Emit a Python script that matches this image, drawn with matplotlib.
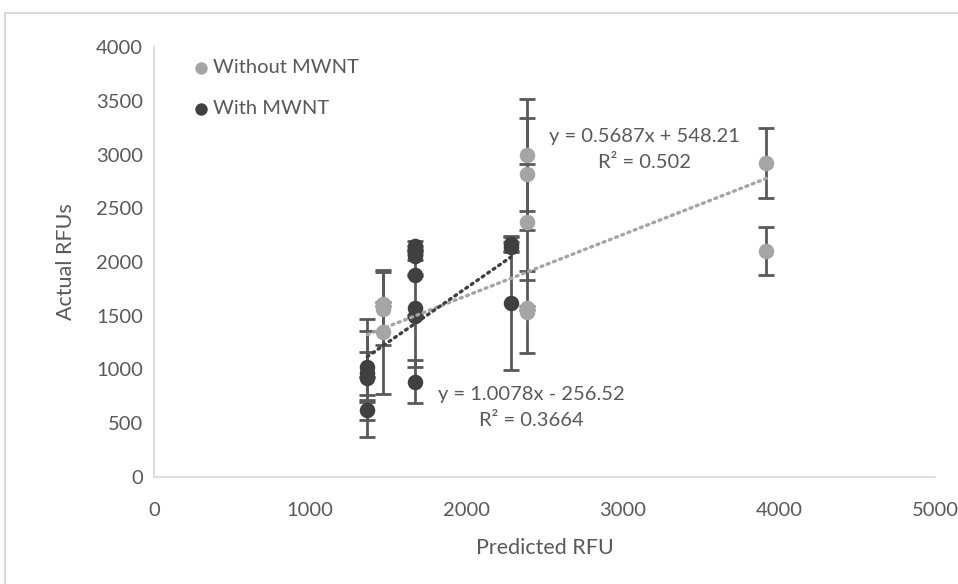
import numpy as np
import matplotlib.pyplot as plt
from matplotlib.patches import Rectangle

plt.rcParams['font.family'] = ['Lato', 'DejaVu Sans']

# Without MWNT: predicted RFU, actual RFU, error
without_x = [1365, 1465, 1465, 1465, 2390, 2390, 2390, 2390, 2390, 3920, 3920]
without_y = [930, 1610, 1565, 1350, 2995, 2816, 2369, 1572, 1534, 2921, 2102]
without_err = [0, 20, 340, 580, 521, 521, 540, 20, 385, 330, 220]

# With MWNT
with_x = [1365, 1365, 1365, 1365, 1672, 1672, 1672, 1672, 1672, 1672, 1672, 2285, 2285, 2285]
with_y = [1026, 965, 921, 623, 2150, 2110, 2060, 1879, 1570, 1500, 887, 2170, 2140, 1616]
with_err = [330, 200, 553, 93, 50, 40, 40, 10, 550, 10, 200, 70, 50, 620]

# linear trendlines: slope, intercept, R^2
without_fit = (0.5687, 548.21, 0.502)
with_fit = (1.0078, -256.52, 0.3664)

light = '#A5A5A5'
dark = '#404040'
bar_col = '#595959'
txt_col = '#595959'
axis_col = '#D9D9D9'

fig = plt.figure(figsize=(9.58, 5.84), dpi=100)
ax = fig.add_axes([154 / 958, 107 / 584, (935 - 154) / 958, 430 / 584])

for xs, ys, err, col, lab in [(without_x, without_y, without_err, light, 'Without MWNT'),
                              (with_x, with_y, with_err, dark, 'With MWNT')]:
    ax.errorbar(xs, ys, yerr=err, fmt='none', ecolor=bar_col, elinewidth=2,
                capsize=5.5, capthick=2, zorder=2)
    ax.scatter(xs, ys, s=125, color=col, zorder=3, label=lab, linewidths=0)

for xs, fit, col in [(without_x, without_fit, light), (with_x, with_fit, dark)]:
    xx = np.array([min(xs), max(xs)])
    ax.plot(xx, fit[0] * xx + fit[1], color=col, lw=2.4,
            linestyle=(0, (0.6, 1.4)), dash_capstyle='round', zorder=4)

fs = 14.5
ax.text(3142, 3163, 'y = %.4fx + %.2f' % (without_fit[0], without_fit[1]),
        ha='center', va='center', fontsize=fs, color=txt_col)
ax.text(3142, 2921, 'R² = %.3f' % without_fit[2],
        ha='center', va='center', fontsize=fs, color=txt_col)
ax.text(2419, 763, 'y = %.4fx - %.2f' % (with_fit[0], -with_fit[1]),
        ha='center', va='center', fontsize=fs, color=txt_col)
ax.text(2419, 521, 'R² = %.4f' % with_fit[2],
        ha='center', va='center', fontsize=fs, color=txt_col)

ax.set_xlim(0, 5000)
ax.set_ylim(0, 4000)
ax.set_xticks(np.arange(0, 5001, 1000))
ax.set_yticks(np.arange(0, 4001, 500))
ax.tick_params(length=0, labelsize=fs, labelcolor=txt_col)
ax.tick_params(axis='y', pad=8)
ax.tick_params(axis='x', pad=18)
for s in ['top', 'right']:
    ax.spines[s].set_visible(False)
for s in ['left', 'bottom']:
    ax.spines[s].set_color(axis_col)
    ax.spines[s].set_linewidth(1.2)

ax.set_xlabel('Predicted RFU', fontsize=15.5, color=txt_col, labelpad=14)
ax.set_ylabel('Actual RFUs', fontsize=15.5, color=txt_col, labelpad=14)

leg = ax.legend(loc='upper left', bbox_to_anchor=(0.035, 1.0), frameon=False,
                fontsize=fs, handlelength=0.8, handletextpad=0.15,
                labelspacing=1.2, markerscale=0.8, borderaxespad=0.2)
for t in leg.get_texts():
    t.set_color(txt_col)

# outer chart border
fig.patches.append(Rectangle((5 / 958, -0.1), 1.2, 1 - 13 / 584 + 0.1,
                             transform=fig.transFigure, fill=False,
                             ec=axis_col, lw=1.5))

fig.savefig('out.png', dpi=100)
